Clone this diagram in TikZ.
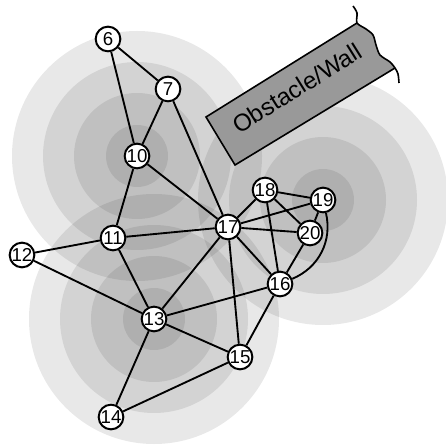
\documentclass[tikz,border=0pt]{standalone}
\usepackage{fontspec}
\setmainfont{Liberation Sans}
\begin{document}
\begin{tikzpicture}[x=.75pt,y=-.75pt,
	nut/.style={circle,draw,fill=white,line width=1.5pt,inner sep=0pt,minimum size=18.5pt,font=\fontsize{14}{14}\selectfont},
	canh/.style={line width=1.4pt},
	vung/.style={fill=black,fill opacity=.09}]
	\useasboundingbox (0,0) rectangle (445,448);
	% vùng phủ sóng quanh 10, 13, 19
	\foreach \x/\y in {137/156,154/319,323/200}
	\foreach \r in {31,63,94,125}
	\fill[vung] (\x,\y) circle[radius=\r];
	% tường
	\fill[black!40] (206,117) -- (357,23)
	-- plot[smooth] coordinates {(357,23) (366,29) (373,35) (376,45) (380,55) (390,62) (395,68)}
	-- (235,165) -- cycle;
	\draw[line width=1.2pt] (357,23) -- (206,117) -- (235,165) -- (395,68);
	\draw[line width=1.2pt] plot[smooth] coordinates {(353,6) (357,13) (357,23) (366,29) (373,35) (376,45) (380,55) (390,62) (395,68) (398,74) (399,83)};
	\node[rotate=32,font=\fontsize{18}{18}\selectfont] (tuong) at (297,88) {Obstacle/Wall};
	% các nút
	\path
	(108,39) node[nut] (n6) {6}
	(168,89) node[nut] (n7) {7}
	(137,156) node[nut] (n10) {10}
	(113,238) node[nut] (n11) {11}
	(22,255) node[nut] (n12) {12}
	(154,319) node[nut] (n13) {13}
	(111,417) node[nut] (n14) {14}
	(240,357) node[nut] (n15) {15}
	(280,284) node[nut] (n16) {16}
	(228,227) node[nut] (n17) {17}
	(265,190) node[nut] (n18) {18}
	(323,200) node[nut] (n19) {19}
	(310,233) node[nut] (n20) {20};
	\foreach \a/\b in {6/7,6/10,7/10,7/17,10/11,10/17,11/12,11/17,11/13,12/13,13/17,13/16,13/15,13/14,14/15,15/17,15/16,16/17,16/18,16/20,17/18,17/19,17/20,18/19,18/20,19/20}
	\draw[canh] (n\a) -- (n\b);
	\draw[canh] (n16) to[bend right=40] (n19);
\end{tikzpicture}
\end{document}
